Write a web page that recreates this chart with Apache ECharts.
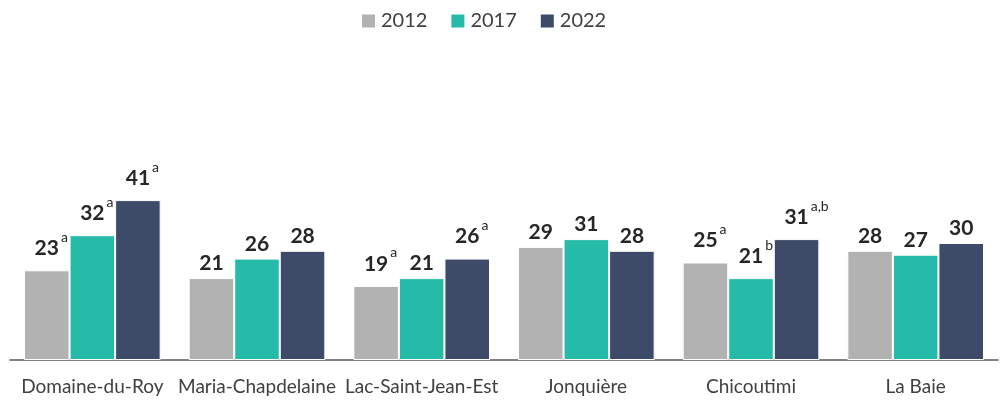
<!DOCTYPE html>
<html><head><meta charset="utf-8">
<script src="https://cdn.jsdelivr.net/npm/echarts@6/dist/echarts.min.js"></script>
<style>html,body{margin:0;padding:0;background:#fff}#c{width:1000px;height:400px}</style>
</head><body><div id="c"></div>
<script>
const categories = ['Domaine-du-Roy','Maria-Chapdelaine','Lac-Saint-Jean-Est','Jonquière','Chicoutimi','La Baie'];
const seriesNames = ['2012','2017','2022'];
const values2012 = [23,21,19,29,25,28];
const values2017 = [32,26,21,31,21,27];
const values2022 = [41,28,26,28,31,30];
const sup2012 = ['a','','a','','a',''];
const sup2017 = ['a','','','','b',''];
const sup2022 = ['a','','a','','a,b',''];
const colors = ['#b2b2b2','#26bba8','#3d4b68'];

const FONT = 'Lato, "Open Sans", sans-serif';
function mkSeries(name, vals, sups, color){
  return {
    name, type:'bar', data: vals, barGap:'0%', barCategoryGap:'17%',
    itemStyle:{color, borderColor:'#ffffff', borderWidth:1},
    label:{show:true, position:'top', distance:4,
      formatter: p => { const s = sups[p.dataIndex]; return s ? `{h|${s}}{v|${p.value}}{s|${s}}` : `{v|${p.value}}`; },
      rich:{
        v:{fontSize:21, fontWeight:'bold', color:'#262626', fontFamily:FONT},
        s:{fontSize:14, color:'#262626', fontFamily:FONT, padding:[0,0,22,2]},
        h:{fontSize:14, color:'rgba(0,0,0,0)', fontFamily:FONT, padding:[0,2,22,0]}
      }
    }
  };
}
const chart = echarts.init(document.getElementById('c'));
chart.setOption({
  animation:false,
  color: colors,
  legend:{top:6, left:355, itemWidth:15, itemHeight:15, itemGap:22,
    textStyle:{fontSize:20, color:'#404040', fontFamily:FONT}, icon:'rect', data: seriesNames},
  grid:{left:10, right:2, top:48, bottom:40},
  xAxis:{type:'category', data:categories,
    axisLine:{lineStyle:{color:'#595959', width:1.5}}, axisTick:{show:false},
    axisLabel:{fontSize:19, color:'#404040', fontFamily:FONT, margin:17, interval:0}},
  yAxis:{type:'value', min:0, max:80, show:false, splitLine:{show:false}},
  series:[mkSeries('2012', values2012, sup2012, colors[0]), mkSeries('2017', values2017, sup2017, colors[1]), mkSeries('2022', values2022, sup2022, colors[2])]
});
</script></body></html>
